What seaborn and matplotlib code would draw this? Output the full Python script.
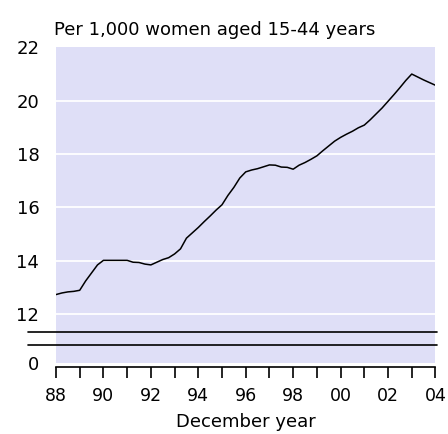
import pandas as pd
import matplotlib
matplotlib.use('Agg')
import matplotlib.pyplot as plt
import seaborn as sns

# quarterly rate, per 1,000 women aged 15-44
years = [1988.0, 1988.25, 1988.5, 1988.75, 1989.0, 1989.25, 1989.5, 1989.75,
         1990.0, 1990.25, 1990.5, 1990.75, 1991.0, 1991.25, 1991.5, 1991.75,
         1992.0, 1992.25, 1992.5, 1992.75, 1993.0, 1993.25, 1993.5, 1993.75,
         1994.0, 1994.25, 1994.5, 1994.75, 1995.0, 1995.25, 1995.5, 1995.75,
         1996.0, 1996.25, 1996.5, 1996.75, 1997.0, 1997.25, 1997.5, 1997.75,
         1998.0, 1998.25, 1998.5, 1998.75, 1999.0, 1999.25, 1999.5, 1999.75,
         2000.0, 2000.25, 2000.5, 2000.75, 2001.0, 2001.25, 2001.5, 2001.75,
         2002.0, 2002.25, 2002.5, 2002.75, 2003.0, 2003.25, 2003.5, 2003.75,
         2004.0]
rate = [12.74, 12.80, 12.84, 12.86, 12.90, 13.25, 13.55, 13.85,
        14.02, 14.02, 14.02, 14.02, 14.02, 13.95, 13.94, 13.88,
        13.85, 13.95, 14.05, 14.12, 14.26, 14.45, 14.85, 15.05,
        15.25, 15.47, 15.68, 15.90, 16.10, 16.45, 16.75, 17.10,
        17.33, 17.40, 17.45, 17.52, 17.59, 17.58, 17.51, 17.50,
        17.43, 17.58, 17.68, 17.80, 17.93, 18.12, 18.30, 18.48,
        18.62, 18.74, 18.85, 18.98, 19.08, 19.28, 19.50, 19.72,
        19.97, 20.22, 20.48, 20.75, 20.99, 20.88, 20.77, 20.67,
        20.57]

ytick_vals = [12, 14, 16, 18, 20, 22]
xtick_labels = ['88', '90', '92', '94', '96', '98', '00', '02', '04']

df = pd.DataFrame({'year': years, 'rate': rate})

sns.set_style('white')
plt.rcParams['font.family'] = ['DejaVu Sans']
plt.rcParams['text.color'] = 'black'
plt.rcParams['axes.labelcolor'] = 'black'
plt.rcParams['xtick.color'] = 'black'
plt.rcParams['ytick.color'] = 'black'

fig = plt.figure(figsize=(4.48, 4.34), dpi=100)
ax = fig.add_axes([0.125, 0.1636, 0.847, 0.728])
ax.set_facecolor('#dfdff7')

bottom = 10.18  # broken axis: bottom of plot stands for 0
for v in ytick_vals[:-1]:
    ax.axhline(v, color='white', lw=1.3, zorder=1)

sns.lineplot(data=df, x='year', y='rate', color='black', lw=1.1, ax=ax, zorder=3)

# axis break marks
for yb in [11.33, 10.87]:
    ax.plot([-0.073, 1.005], [yb, yb], transform=ax.get_yaxis_transform(),
            color='black', lw=1.2, clip_on=False, zorder=4)

ax.set_xlim(1988, 2004)
ax.set_ylim(bottom, 22)
ax.set_yticks([bottom] + ytick_vals)
ax.set_yticklabels(['0'] + [str(v) for v in ytick_vals])
ax.tick_params(axis='y', length=0, pad=12, labelsize=13, labelcolor='black')

ax.set_xticks(range(1988, 2005))
ax.set_xticklabels([xtick_labels[i // 2] if i % 2 == 0 else '' for i in range(17)])
ax.tick_params(axis='x', direction='out', length=8, width=1.2, color='black',
               pad=6, bottom=True, labelsize=12.5, labelcolor='black')

for s in ['top', 'right', 'left']:
    ax.spines[s].set_visible(False)
ax.spines['bottom'].set_color('black')
ax.spines['bottom'].set_linewidth(1.2)
ax.spines['bottom'].set_position(('outward', 3))

ax.set_xlabel('December year', fontsize=13, labelpad=6, color='black')
ax.set_ylabel('')
ax.text(-0.005, 1.025, 'Per 1,000 women aged 15-44 years', transform=ax.transAxes,
        fontsize=13, ha='left', va='bottom', color='black')

fig.savefig('out.png', dpi=100)
